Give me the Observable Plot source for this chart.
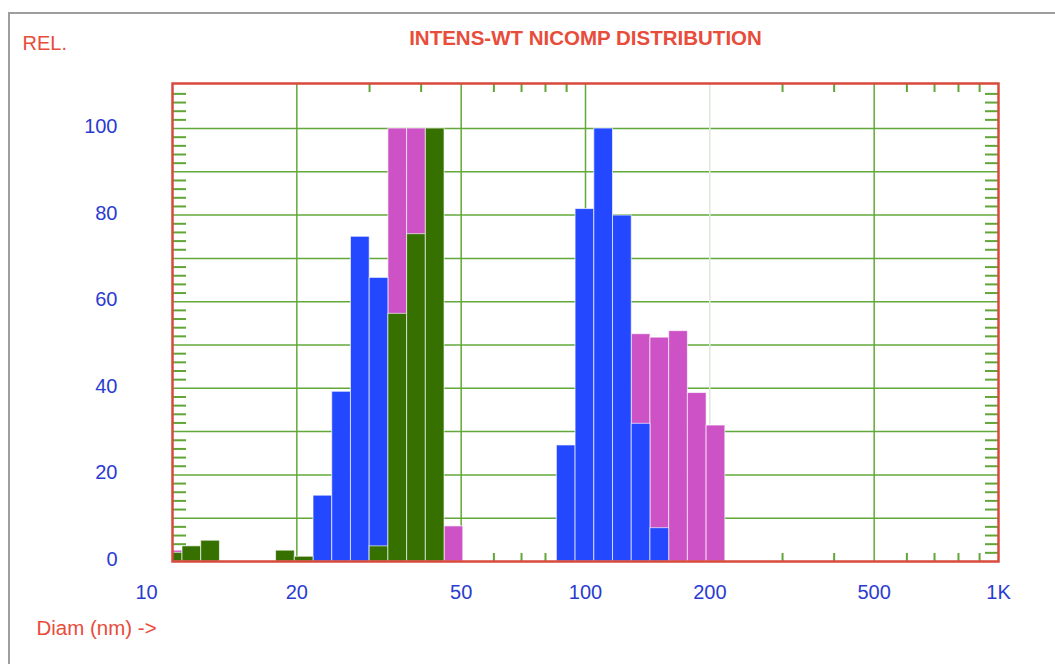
<!DOCTYPE html>
<html>
<head>
<meta charset="utf-8">
<script src="https://cdn.jsdelivr.net/npm/d3@7"></script>
<script src="https://cdn.jsdelivr.net/npm/@observablehq/plot@0.6"></script>
<style>
  html, body { margin: 0; padding: 0; background: #fff; overflow: hidden; }
  #wrap { position: relative; width: 1055px; height: 664px; overflow: hidden; }
  #panel { position: absolute; left: 8px; top: 12px; width: 2000px; height: 2000px;
           border: 2px solid #9e9e9e; pointer-events: none; }
  /* heavier minor ticks along the frame */
  #wrap svg g[aria-label$="axis tick"],
  #wrap svg g[aria-label$="axis tick"] * { stroke: #5fa636; stroke-width: 2px; stroke-opacity: 1; }
</style>
</head>
<body>
<div id="wrap"><div id="panel"></div></div>
<script>
// Channel edges of the size distribution (diameter, nm), log-spaced.
const binEdges = [9.525, 10.573, 11.736, 13.027, 14.460, 16.051, 17.816, 19.776, 21.951, 24.366,
  27.046, 30.021, 33.323, 36.989, 41.058, 45.574, 50.587, 56.152, 62.328, 69.184,
  76.794, 85.241, 94.618, 105.026, 116.579, 129.403, 143.637, 159.437, 176.975, 196.442, 218.05];

// Relative intensity per channel (one value per channel, 0 = empty).
const pinkValues  = [2.5, 0, 0, 0, 0, 0, 0, 0, 0, 0, 0, 0, 100, 100, 0, 8.1,
  0, 0, 0, 0, 0, 0, 0, 0, 0, 52.5, 51.7, 53.2, 38.9, 31.4];
const blueValues  = [0, 0, 0, 0, 0, 0, 0, 0, 15.2, 39.2, 75.0, 65.5, 0, 0, 0, 0,
  0, 0, 0, 0, 0, 26.8, 81.4, 100, 79.9, 31.8, 7.7, 0, 0, 0];
const greenValues = [2.0, 3.5, 4.8, 0, 0, 0, 2.5, 1.1, 0, 0, 0, 3.5, 57.2, 75.6, 100, 0,
  0, 0, 0, 0, 0, 0, 0, 0, 0, 0, 0, 0, 0, 0];

// Axes
const yTickValues = [0, 20, 40, 60, 80, 100];
const yGridValues = [10, 20, 30, 40, 50, 60, 70, 80, 90, 100];
const yMinorValues = [2, 4, 6, 8, 12, 14, 16, 18, 22, 24, 26, 28, 32, 34, 36, 38, 42, 44, 46, 48,
  52, 54, 56, 58, 62, 64, 66, 68, 72, 74, 76, 78, 82, 84, 86, 88, 92, 94, 96, 98, 102, 104, 106, 108];
const xTickValues = [20, 50, 100, 200, 500, 1000];
const xTickLabels = ["20", "50", "100", "200", "500", "1K"];
const xGridValues = [20, 50, 100, 500];
const xFaintGridValues = [200];
const xMinorValues = [30, 40, 60, 70, 80, 90, 300, 400, 600, 700, 800, 900];

const FONT = "'Liberation Sans', Arial, Helvetica, sans-serif";
const RED_TEXT = "#e84c3a";
const RED_FRAME = "#d84a3c";
const BLUE_TEXT = "#2a3bd0";
const GRID = "#62a83a";
const BAR_PINK = "#cc52c6";
const BAR_BLUE = "#2448ff";
const BAR_GREEN = "#367100";

function channelRows(values) {
  return values
    .map((v, i) => ({lo: binEdges[i], hi: binEdges[i + 1], v}))
    .filter(d => d.v > 0);
}

function bars(values, fill) {
  return Plot.rect(channelRows(values), {
    x1: "lo", x2: "hi", y1: 0, y2: "v",
    fill, stroke: "white", strokeOpacity: 0.65, strokeWidth: 1,
    clip: true
  });
}

const chart = Plot.plot({
  width: 1055,
  height: 664,
  marginLeft: 172,
  marginRight: 57,
  marginTop: 83,
  marginBottom: 103,
  style: {fontFamily: FONT, fontSize: "20px", background: "transparent", color: GRID},
  // scale axes carry only the short inward minor ticks along the frame
  x: {type: "log", domain: [10, 1000], axis: "both", ticks: xMinorValues,
      tickSize: -8, tickFormat: () => "", label: null},
  y: {domain: [0, 110.4], axis: "both", ticks: yMinorValues,
      tickSize: -14, tickFormat: () => "", label: null},
  marks: [
    // grid
    Plot.ruleY(yGridValues, {stroke: GRID, strokeWidth: 1.5}),
    Plot.ruleX(xGridValues, {stroke: GRID, strokeWidth: 1.5}),
    Plot.ruleX(xFaintGridValues, {stroke: "#dfe8dc", strokeWidth: 1.5}),
    // distribution
    bars(pinkValues, BAR_PINK),
    bars(blueValues, BAR_BLUE),
    bars(greenValues, BAR_GREEN),
    Plot.frame({stroke: RED_FRAME, strokeWidth: 2.5}),
    // tick labels
    Plot.text(yTickValues, {
      y: d => d, text: d => String(d), frameAnchor: "left",
      textAnchor: "end", dx: -55, dy: -2, fill: BLUE_TEXT
    }),
    Plot.text(xTickValues, {
      x: d => d, text: (d, i) => xTickLabels[i], frameAnchor: "bottom",
      lineAnchor: "middle", dy: 31, fill: BLUE_TEXT
    }),
    Plot.text([10], {
      x: d => d, text: d => String(d), frameAnchor: "bottom",
      lineAnchor: "middle", dx: -26, dy: 31, fill: BLUE_TEXT
    }),
    // titles
    Plot.text(["INTENS-WT NICOMP DISTRIBUTION"], {
      frameAnchor: "top", lineAnchor: "middle", dy: -45,
      fill: RED_TEXT, fontWeight: "bold", fontSize: 20.5
    }),
    Plot.text(["REL."], {
      frameAnchor: "top-left", textAnchor: "start", lineAnchor: "middle",
      dx: -150, dy: -40, fill: RED_TEXT, fontSize: 20
    }),
    Plot.text(["Diam (nm) ->"], {
      frameAnchor: "bottom-left", textAnchor: "start", lineAnchor: "middle",
      dx: -136, dy: 67, fill: RED_TEXT, fontSize: 20.5
    })
  ]
});

document.getElementById("wrap").prepend(chart);
</script>
</body>
</html>
